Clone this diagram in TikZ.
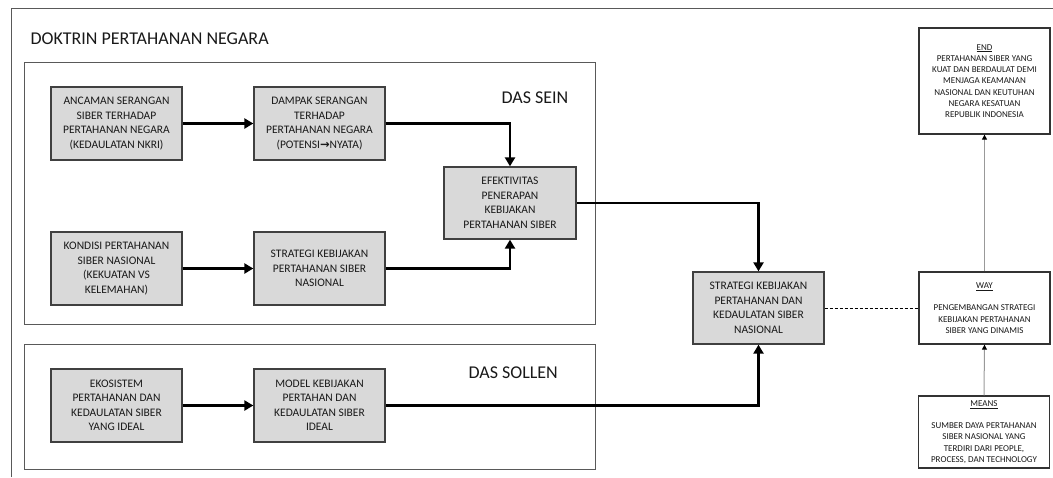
\documentclass[tikz,border=0pt]{standalone}
\usepackage{fontspec}
\setmainfont{Carlito}
\newfontfamily\arrowglyph{DejaVu Sans}
\usetikzlibrary{arrows.meta}

\begin{document}
\begin{tikzpicture}[x=1pt,y=-1pt,
  graybox/.style={draw=black!75, line width=1.3pt, fill=black!15,
    minimum width=131pt, minimum height=73pt, inner sep=2pt,
    align=center, text=black!90, font=\fontsize{11.5}{14.5}\selectfont},
  whitebox/.style={draw=black!80, line width=1.3pt, fill=white,
    minimum width=131pt, minimum height=72pt, inner sep=2pt,
    align=center, text=black!90, font=\fontsize{9}{11.2}\selectfont},
  frame/.style={draw=black!65, line width=0.9pt},
  heading/.style={anchor=base west, text=black!90, font=\fontsize{18}{20}\selectfont},
  flow/.style={draw=black, line width=2.8pt, -{Triangle[length=9pt,width=10pt]}},
  support/.style={draw=black!40, line width=1pt, -{Triangle[length=5pt,width=5pt,black]}},
  link/.style={draw=black, line width=0.9pt, dash pattern=on 3pt off 2pt}
]
\useasboundingbox (0,0) rectangle (1053,477);

% outer frame and the two groups
\draw[frame] (11,477) -- (11,8.5) -- (1053,8.5);
\draw[frame] (24,62) rectangle (595,324);
\draw[frame] (24,344) rectangle (595,469);

\node[heading] (title) at (27,44.5) {DOKTRIN PERTAHANAN NEGARA};
\node[heading] (sein) at (498,103) {DAS SEIN};
\node[heading] (sollen) at (465,378) {DAS SOLLEN};

% das sein
\node[graybox] (a1) at (116.5,123.5) {ANCAMAN SERANGAN\\SIBER TERHADAP\\PERTAHANAN NEGARA\\(KEDAULATAN NKRI)};
\node[graybox] (a2) at (319.5,123.5) {DAMPAK SERANGAN\\TERHADAP\\PERTAHANAN NEGARA\\(POTENSI{\arrowglyph\fontsize{11.5}{14.5}\selectfont\bfseries →}NYATA)};
\node[graybox] (b1) at (116.5,268.5) {KONDISI PERTAHANAN\\SIBER NASIONAL\\(KEKUATAN VS\\KELEMAHAN)};
\node[graybox] (b2) at (319.5,268.5) {STRATEGI KEBIJAKAN\\PERTAHANAN SIBER\\NASIONAL};
\node[graybox, minimum width=132pt, minimum height=72pt] (eff) at (510,203) {EFEKTIVITAS\\PENERAPAN\\KEBIJAKAN\\PERTAHANAN SIBER};

% das sollen
\node[graybox] (c1) at (116.5,405.5) {EKOSISTEM\\PERTAHANAN DAN\\KEDAULATAN SIBER\\YANG IDEAL};
\node[graybox] (c2) at (319.5,405.5) {MODEL KEBIJAKAN\\PERTAHAN DAN\\KEDAULATAN SIBER\\IDEAL};

% national strategy
\node[graybox, minimum height=72pt] (strat) at (758.5,308) {STRATEGI KEBIJAKAN\\PERTAHANAN DAN\\KEDAULATAN SIBER\\NASIONAL};

% ends, ways, means
\node[whitebox, minimum height=106pt] (goal) at (984.5,81) {\underline{END}\\PERTAHANAN SIBER YANG\\KUAT DAN BERDAULAT DEMI\\MENJAGA KEAMANAN\\NASIONAL DAN KEUTUHAN\\NEGARA KESATUAN\\REPUBLIK INDONESIA};
\node[whitebox] (way) at (984.5,308) {\underline{WAY}\\[11.2pt]PENGEMBANGAN STRATEGI\\KEBIJAKAN PERTAHANAN\\SIBER YANG DINAMIS};
\node[whitebox] (means) at (984,432) {\underline{MEANS}\\[11.2pt]SUMBER DAYA PERTAHANAN\\SIBER NASIONAL YANG\\TERDIRI DARI PEOPLE,\\PROCESS, DAN TECHNOLOGY};

% connectors
\draw[flow] (a1) -- (a2);
\draw[flow] (a2.east) -| (eff.north);
\draw[flow] (b1) -- (b2);
\draw[flow] (b2.east) -| (eff.south);
\draw[flow] (eff.east) -| (strat.north);
\draw[flow] (c1) -- (c2);
\draw[flow] (c2.east) -| (strat.south);
\draw[link] (strat.east) -- (way.west);
\draw[support] (way.north) -- (goal.south);
\draw[support] (means.north) -- (way.south);
\end{tikzpicture}
\end{document}
